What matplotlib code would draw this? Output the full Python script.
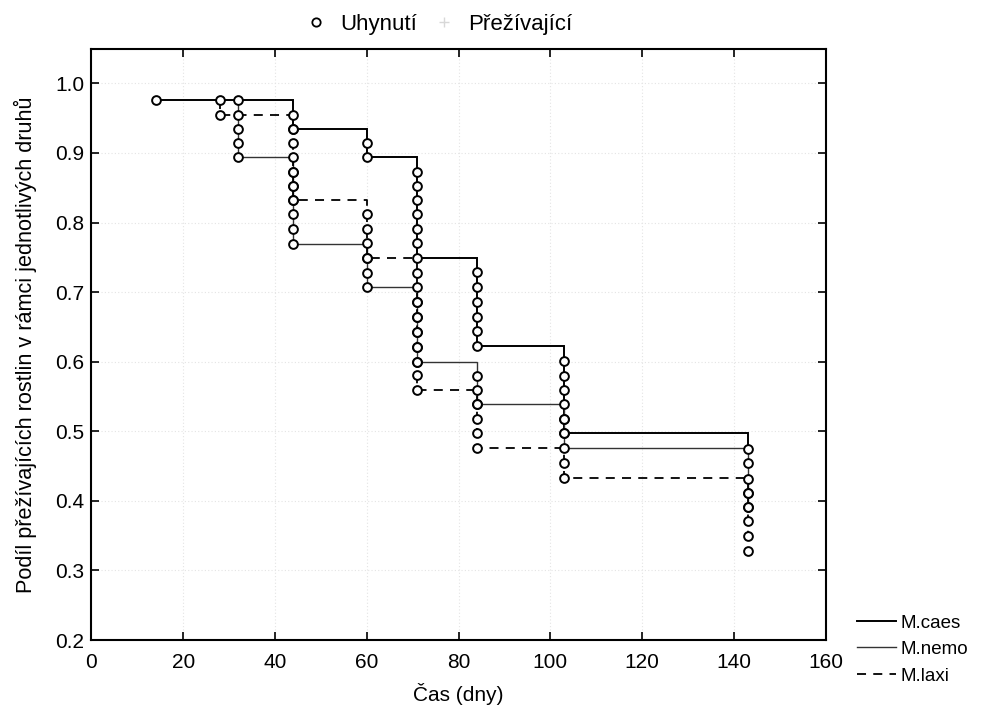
import matplotlib
matplotlib.use("Agg")
import matplotlib.pyplot as plt
from matplotlib.lines import Line2D

plt.rcParams['font.family'] = ['Liberation Sans', 'DejaVu Sans']

# ---------------- data ----------------
species = ["M.caes", "M.nemo", "M.laxi"]

caes_times = [14, 44, 60, 71, 84, 103, 143]
caes_deaths = [
    [0.976],
    [0.955, 0.935],
    [0.915, 0.894],
    [0.873, 0.853, 0.833, 0.812, 0.791, 0.770, 0.749],
    [0.729, 0.707, 0.686, 0.665, 0.644, 0.622],
    [0.601, 0.580, 0.560, 0.539, 0.518, 0.497],
    [0.475],
]

nemo_times = [32, 44, 60, 71, 84, 103, 143]
nemo_deaths = [
    [0.976, 0.955, 0.935, 0.915, 0.894],
    [0.873, 0.853, 0.833, 0.812, 0.791, 0.769],
    [0.749, 0.728, 0.707],
    [0.686, 0.665, 0.643, 0.621, 0.600],
    [0.580, 0.560, 0.539],
    [0.518, 0.497, 0.476],
    [0.454, 0.432, 0.412, 0.391],
]

laxi_times = [28, 44, 60, 71, 84, 103, 143]
laxi_deaths = [
    [0.976, 0.955],
    [0.935, 0.915, 0.894, 0.873, 0.853, 0.833],
    [0.812, 0.791, 0.770, 0.749],
    [0.728, 0.707, 0.686, 0.665, 0.643, 0.621, 0.600, 0.581, 0.560],
    [0.539, 0.518, 0.497, 0.476],
    [0.454, 0.433],
    [0.412, 0.391, 0.371, 0.349, 0.328],
]

x_ticks = [0, 20, 40, 60, 80, 100, 120, 140, 160]
y_ticks = [0.2, 0.3, 0.4, 0.5, 0.6, 0.7, 0.8, 0.9, 1.0]

# ---------------- figure ----------------
fig = plt.figure(figsize=(9.92, 7.2), dpi=100)
ax = fig.add_axes([0.0922, 0.1110, 0.7400, 0.8205])

styles = {
    "M.caes": dict(color="black", lw=1.4, ls="-"),
    "M.nemo": dict(color="#333333", lw=1.0, ls="-"),
    "M.laxi": dict(color="black", lw=1.3, ls=(0, (5, 4))),
}

def draw_curve(times, deaths, style):
    xs, ys = [], []
    for i, (t, d) in enumerate(zip(times, deaths)):
        top = d[0] if i == 0 else deaths[i - 1][-1]
        xs += [t, t]
        ys += [top, d[-1]]
    ax.plot(xs, ys, **style, zorder=2, solid_joinstyle="miter")
    for t, d in zip(times, deaths):
        ax.plot([t] * len(d), d, ls="none", marker="o", ms=6.3, mfc="white",
                mec="black", mew=1.4, zorder=3)

draw_curve(caes_times, caes_deaths, styles["M.caes"])
draw_curve(nemo_times, nemo_deaths, styles["M.nemo"])
draw_curve(laxi_times, laxi_deaths, styles["M.laxi"])

ax.set_xlim(0, 160)
ax.set_ylim(0.2, 1.049)
ax.set_xticks(x_ticks)
ax.set_yticks(y_ticks)
ax.set_xticklabels([str(v) for v in x_ticks])
ax.set_yticklabels([f"{v:.1f}" for v in y_ticks])
ax.tick_params(direction="in", length=6, width=1.2, top=True, right=True,
               labelsize=15)
ax.tick_params(axis="x", pad=9)
ax.tick_params(axis="y", pad=5)
for s in ax.spines.values():
    s.set_linewidth(1.5)
ax.grid(True, color="#e4e4e4", ls=(0, (1, 2)), lw=0.8)
ax.set_axisbelow(True)

ax.set_xlabel("Čas (dny)", fontsize=15, labelpad=8)
ax.set_ylabel("Podíl přežívajících rostlin v rámci jednotlivých druhů",
              fontsize=15.6, labelpad=13)

# top legend (markers)
h1 = Line2D([], [], ls="none", marker="o", ms=6, mfc="white", mec="black", mew=1.3)
h2 = Line2D([], [], ls="none", marker="+", ms=7, color="#d8d8d8", mew=1.0)
fig.legend([h1, h2], ["Uhynutí", "Přežívající"], loc="center",
           bbox_to_anchor=(0.4425, 0.966), ncol=2, frameon=False,
           fontsize=16, handlelength=1.0, handletextpad=0.6, columnspacing=0.7)

# bottom-right legend (lines)
hl = [Line2D([], [], **styles[s]) for s in species]
fig.legend(hl, species, loc="center left", bbox_to_anchor=(0.847, 0.098),
           frameon=False, fontsize=13.5, handlelength=2.05, handletextpad=0.25,
           labelspacing=0.5)

fig.savefig("out.png", dpi=100)
